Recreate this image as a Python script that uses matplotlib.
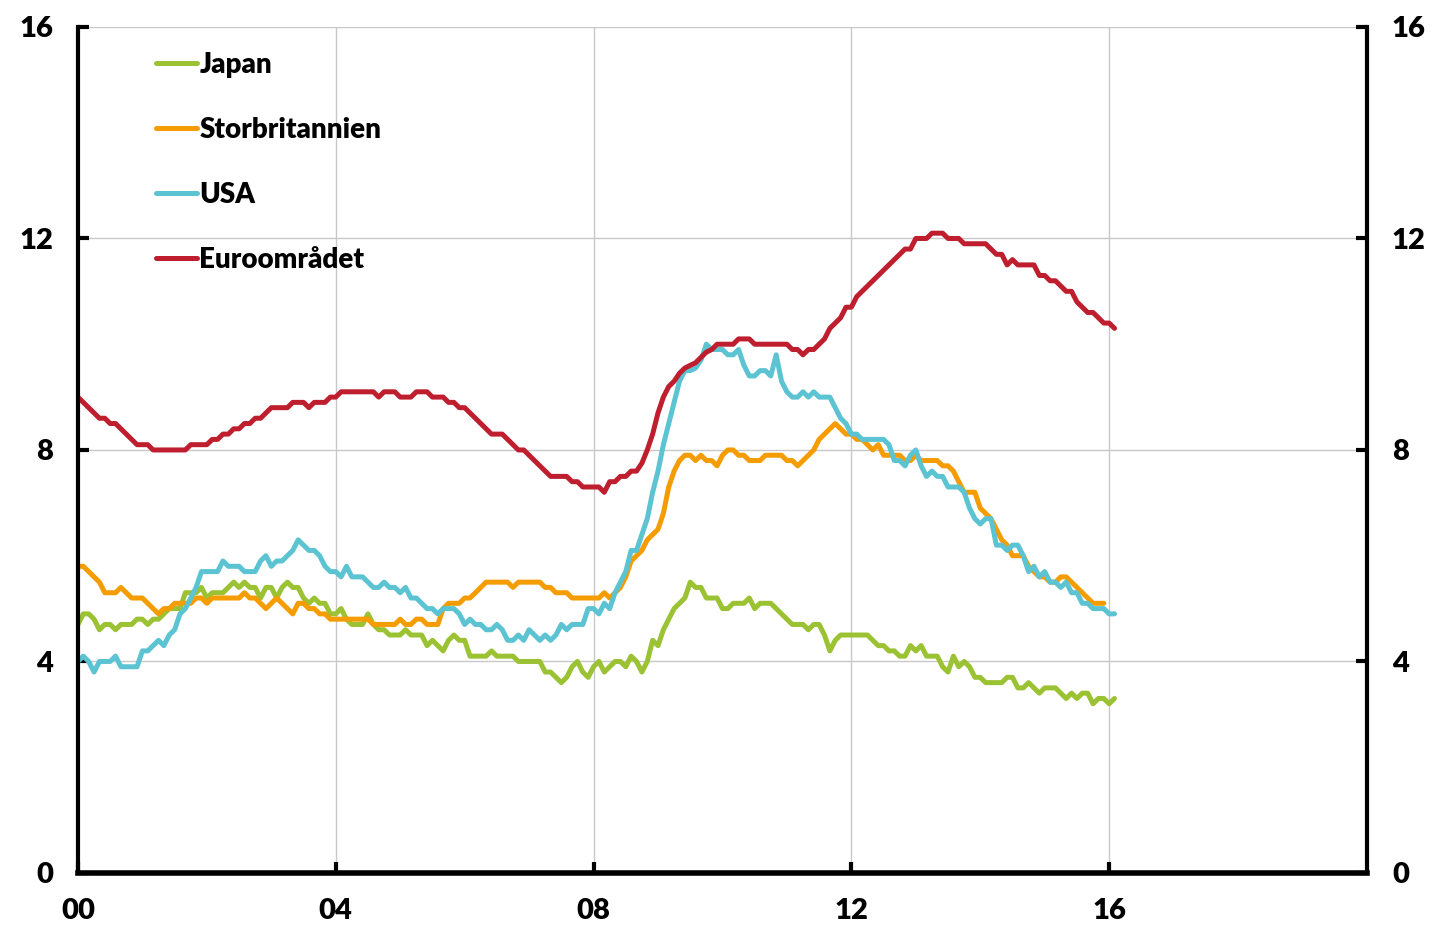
import matplotlib
matplotlib.use("Agg")
import matplotlib.pyplot as plt
import numpy as np

plt.rcParams['font.family'] = ['Lato', 'DejaVu Sans']
plt.rcParams['font.weight'] = 'heavy'

# monthly values, Jan 2000 onwards
euro = [
    9.0, 8.9, 8.8, 8.7, 8.6, 8.6, 8.5, 8.5, 8.4, 8.3, 8.2, 8.1,
    8.1, 8.1, 8.0, 8.0, 8.0, 8.0, 8.0, 8.0, 8.0, 8.1, 8.1, 8.1,
    8.1, 8.2, 8.2, 8.3, 8.3, 8.4, 8.4, 8.5, 8.5, 8.6, 8.6, 8.7,
    8.8, 8.8, 8.8, 8.8, 8.9, 8.9, 8.9, 8.8, 8.9, 8.9, 8.9, 9.0,
    9.0, 9.1, 9.1, 9.1, 9.1, 9.1, 9.1, 9.1, 9.0, 9.1, 9.1, 9.1,
    9.0, 9.0, 9.0, 9.1, 9.1, 9.1, 9.0, 9.0, 9.0, 8.9, 8.9, 8.8,
    8.8, 8.7, 8.6, 8.5, 8.4, 8.3, 8.3, 8.3, 8.2, 8.1, 8.0, 8.0,
    7.9, 7.8, 7.7, 7.6, 7.5, 7.5, 7.5, 7.5, 7.4, 7.4, 7.3, 7.3,
    7.3, 7.3, 7.2, 7.4, 7.4, 7.5, 7.5, 7.6, 7.6, 7.75, 8.0, 8.3,
    8.7, 9.0, 9.2, 9.3, 9.45, 9.55, 9.6, 9.65, 9.75, 9.85, 9.9, 10.0,
    10.0, 10.0, 10.0, 10.1, 10.1, 10.1, 10.0, 10.0, 10.0, 10.0, 10.0, 10.0,
    10.0, 9.9, 9.9, 9.8, 9.9, 9.9, 10.0, 10.1, 10.3, 10.4, 10.5, 10.7,
    10.7, 10.9, 11.0, 11.1, 11.2, 11.3, 11.4, 11.5, 11.6, 11.7, 11.8, 11.8,
    12.0, 12.0, 12.0, 12.1, 12.1, 12.1, 12.0, 12.0, 12.0, 11.9, 11.9, 11.9,
    11.9, 11.9, 11.8, 11.7, 11.7, 11.5, 11.6, 11.5, 11.5, 11.5, 11.5, 11.3,
    11.3, 11.2, 11.2, 11.1, 11.0, 11.0, 10.8, 10.7, 10.6, 10.6, 10.5, 10.4,
    10.4, 10.3,
]

japan = [
    4.7, 4.9, 4.9, 4.8, 4.6, 4.7, 4.7, 4.6, 4.7, 4.7, 4.7, 4.8,
    4.8, 4.7, 4.8, 4.8, 4.9, 5.0, 5.0, 5.0, 5.3, 5.3, 5.3, 5.4,
    5.2, 5.3, 5.3, 5.3, 5.4, 5.5, 5.4, 5.5, 5.4, 5.4, 5.2, 5.4,
    5.4, 5.2, 5.4, 5.5, 5.4, 5.4, 5.2, 5.1, 5.2, 5.1, 5.1, 4.9,
    4.9, 5.0, 4.8, 4.7, 4.7, 4.7, 4.9, 4.7, 4.6, 4.6, 4.5, 4.5,
    4.5, 4.6, 4.5, 4.5, 4.5, 4.3, 4.4, 4.3, 4.2, 4.4, 4.5, 4.4,
    4.4, 4.1, 4.1, 4.1, 4.1, 4.2, 4.1, 4.1, 4.1, 4.1, 4.0, 4.0,
    4.0, 4.0, 4.0, 3.8, 3.8, 3.7, 3.6, 3.7, 3.9, 4.0, 3.8, 3.7,
    3.9, 4.0, 3.8, 3.9, 4.0, 4.0, 3.9, 4.1, 4.0, 3.8, 4.0, 4.4,
    4.3, 4.6, 4.8, 5.0, 5.1, 5.2, 5.5, 5.4, 5.4, 5.2, 5.2, 5.2,
    5.0, 5.0, 5.1, 5.1, 5.1, 5.2, 5.0, 5.1, 5.1, 5.1, 5.0, 4.9,
    4.8, 4.7, 4.7, 4.7, 4.6, 4.7, 4.7, 4.5, 4.2, 4.4, 4.5, 4.5,
    4.5, 4.5, 4.5, 4.5, 4.4, 4.3, 4.3, 4.2, 4.2, 4.1, 4.1, 4.3,
    4.2, 4.3, 4.1, 4.1, 4.1, 3.9, 3.8, 4.1, 3.9, 4.0, 3.9, 3.7,
    3.7, 3.6, 3.6, 3.6, 3.6, 3.7, 3.7, 3.5, 3.5, 3.6, 3.5, 3.4,
    3.5, 3.5, 3.5, 3.4, 3.3, 3.4, 3.3, 3.4, 3.4, 3.2, 3.3, 3.3,
    3.2, 3.3,
]

uk = [
    5.8, 5.8, 5.7, 5.6, 5.5, 5.3, 5.3, 5.3, 5.4, 5.3, 5.2, 5.2,
    5.2, 5.1, 5.0, 4.9, 5.0, 5.0, 5.1, 5.1, 5.1, 5.1, 5.2, 5.2,
    5.1, 5.2, 5.2, 5.2, 5.2, 5.2, 5.2, 5.3, 5.2, 5.2, 5.1, 5.0,
    5.1, 5.2, 5.1, 5.0, 4.9, 5.1, 5.1, 5.0, 5.0, 4.9, 4.9, 4.8,
    4.8, 4.8, 4.8, 4.8, 4.8, 4.8, 4.8, 4.7, 4.7, 4.7, 4.7, 4.7,
    4.8, 4.7, 4.7, 4.8, 4.8, 4.7, 4.7, 4.7, 5.0, 5.1, 5.1, 5.1,
    5.2, 5.2, 5.3, 5.4, 5.5, 5.5, 5.5, 5.5, 5.5, 5.4, 5.5, 5.5,
    5.5, 5.5, 5.5, 5.4, 5.4, 5.3, 5.3, 5.3, 5.2, 5.2, 5.2, 5.2,
    5.2, 5.2, 5.3, 5.2, 5.3, 5.4, 5.6, 5.9, 6.0, 6.1, 6.3, 6.4,
    6.5, 6.8, 7.3, 7.6, 7.8, 7.9, 7.9, 7.8, 7.9, 7.8, 7.8, 7.7,
    7.9, 8.0, 8.0, 7.9, 7.9, 7.8, 7.8, 7.8, 7.9, 7.9, 7.9, 7.9,
    7.8, 7.8, 7.7, 7.8, 7.9, 8.0, 8.2, 8.3, 8.4, 8.5, 8.4, 8.3,
    8.3, 8.2, 8.2, 8.1, 8.0, 8.1, 7.9, 7.9, 7.9, 7.9, 7.8, 7.8,
    7.9, 7.8, 7.8, 7.8, 7.8, 7.7, 7.7, 7.6, 7.4, 7.2, 7.2, 7.2,
    6.9, 6.8, 6.7, 6.5, 6.3, 6.2, 6.0, 6.0, 6.0, 5.8, 5.7, 5.6,
    5.6, 5.5, 5.5, 5.6, 5.6, 5.5, 5.4, 5.3, 5.2, 5.1, 5.1, 5.1,
]

usa = [
    4.0, 4.1, 4.0, 3.8, 4.0, 4.0, 4.0, 4.1, 3.9, 3.9, 3.9, 3.9,
    4.2, 4.2, 4.3, 4.4, 4.3, 4.5, 4.6, 4.9, 5.0, 5.2, 5.4, 5.7,
    5.7, 5.7, 5.7, 5.9, 5.8, 5.8, 5.8, 5.7, 5.7, 5.7, 5.9, 6.0,
    5.8, 5.9, 5.9, 6.0, 6.1, 6.3, 6.2, 6.1, 6.1, 6.0, 5.8, 5.7,
    5.7, 5.6, 5.8, 5.6, 5.6, 5.6, 5.5, 5.4, 5.4, 5.5, 5.4, 5.4,
    5.3, 5.4, 5.2, 5.2, 5.1, 5.0, 5.0, 4.9, 5.0, 5.0, 5.0, 4.9,
    4.7, 4.8, 4.7, 4.7, 4.6, 4.6, 4.7, 4.6, 4.4, 4.4, 4.5, 4.4,
    4.6, 4.5, 4.4, 4.5, 4.4, 4.5, 4.7, 4.6, 4.7, 4.7, 4.7, 5.0,
    5.0, 4.9, 5.1, 5.0, 5.3, 5.5, 5.7, 6.1, 6.1, 6.4, 6.7, 7.2,
    7.6, 8.1, 8.5, 8.9, 9.3, 9.5, 9.5, 9.55, 9.7, 10.0, 9.9, 9.9,
    9.9, 9.8, 9.8, 9.9, 9.6, 9.4, 9.4, 9.5, 9.5, 9.4, 9.8, 9.3,
    9.1, 9.0, 9.0, 9.1, 9.0, 9.1, 9.0, 9.0, 9.0, 8.8, 8.6, 8.5,
    8.3, 8.3, 8.2, 8.2, 8.2, 8.2, 8.2, 8.1, 7.8, 7.8, 7.7, 7.9,
    8.0, 7.7, 7.5, 7.6, 7.5, 7.5, 7.3, 7.3, 7.3, 7.2, 6.9, 6.7,
    6.6, 6.7, 6.7, 6.2, 6.2, 6.1, 6.2, 6.2, 6.0, 5.7, 5.8, 5.6,
    5.7, 5.5, 5.5, 5.4, 5.5, 5.3, 5.3, 5.1, 5.1, 5.0, 5.0, 5.0,
    4.9, 4.9,
]

series = [
    ('Japan', japan, '#9bc232'),
    ('Storbritannien', uk, '#f59c00'),
    ('USA', usa, '#5bc3d2'),
    ('Euroområdet', euro, '#be1e2d'),
]

fig = plt.figure(figsize=(14.38, 9.27), dpi=100)
ax = fig.add_axes([0.0542, 0.0583, 0.8964, 0.9126])

for name, vals, col in series:
    t = 2000 + np.arange(len(vals)) / 12.0
    ax.plot(t, vals, color=col, lw=3.6, label=name, solid_capstyle='round')

ax.set_xlim(2000, 2020)
ax.set_ylim(0, 16)
ax.set_xticks([2000, 2004, 2008, 2012, 2016])
ax.set_xticklabels(['00', '04', '08', '12', '16'])
ax.set_yticks([0, 4, 8, 12, 16])
ax.grid(color='#c8c8c8', lw=1)
ax.set_axisbelow(True)

ax.spines['top'].set_visible(False)
for s in ['left', 'right']:
    ax.spines[s].set_linewidth(3)
ax.spines['bottom'].set_linewidth(4)

ax.tick_params(axis='y', direction='in', length=8, width=3, left=True, right=True,
               labelleft=True, labelright=True, labelsize=21, pad=18)
ax.tick_params(axis='x', direction='in', length=8, width=3, labelsize=21, pad=18)

leg = ax.legend(loc='upper left', bbox_to_anchor=(0.041, 1.0), frameon=False,
                prop={'family': 'Lato', 'weight': 'heavy', 'size': 20},
                handlelength=1.5, handletextpad=0.07, labelspacing=1.4)

fig.savefig('out.png', dpi=100)
plt.close('all')
